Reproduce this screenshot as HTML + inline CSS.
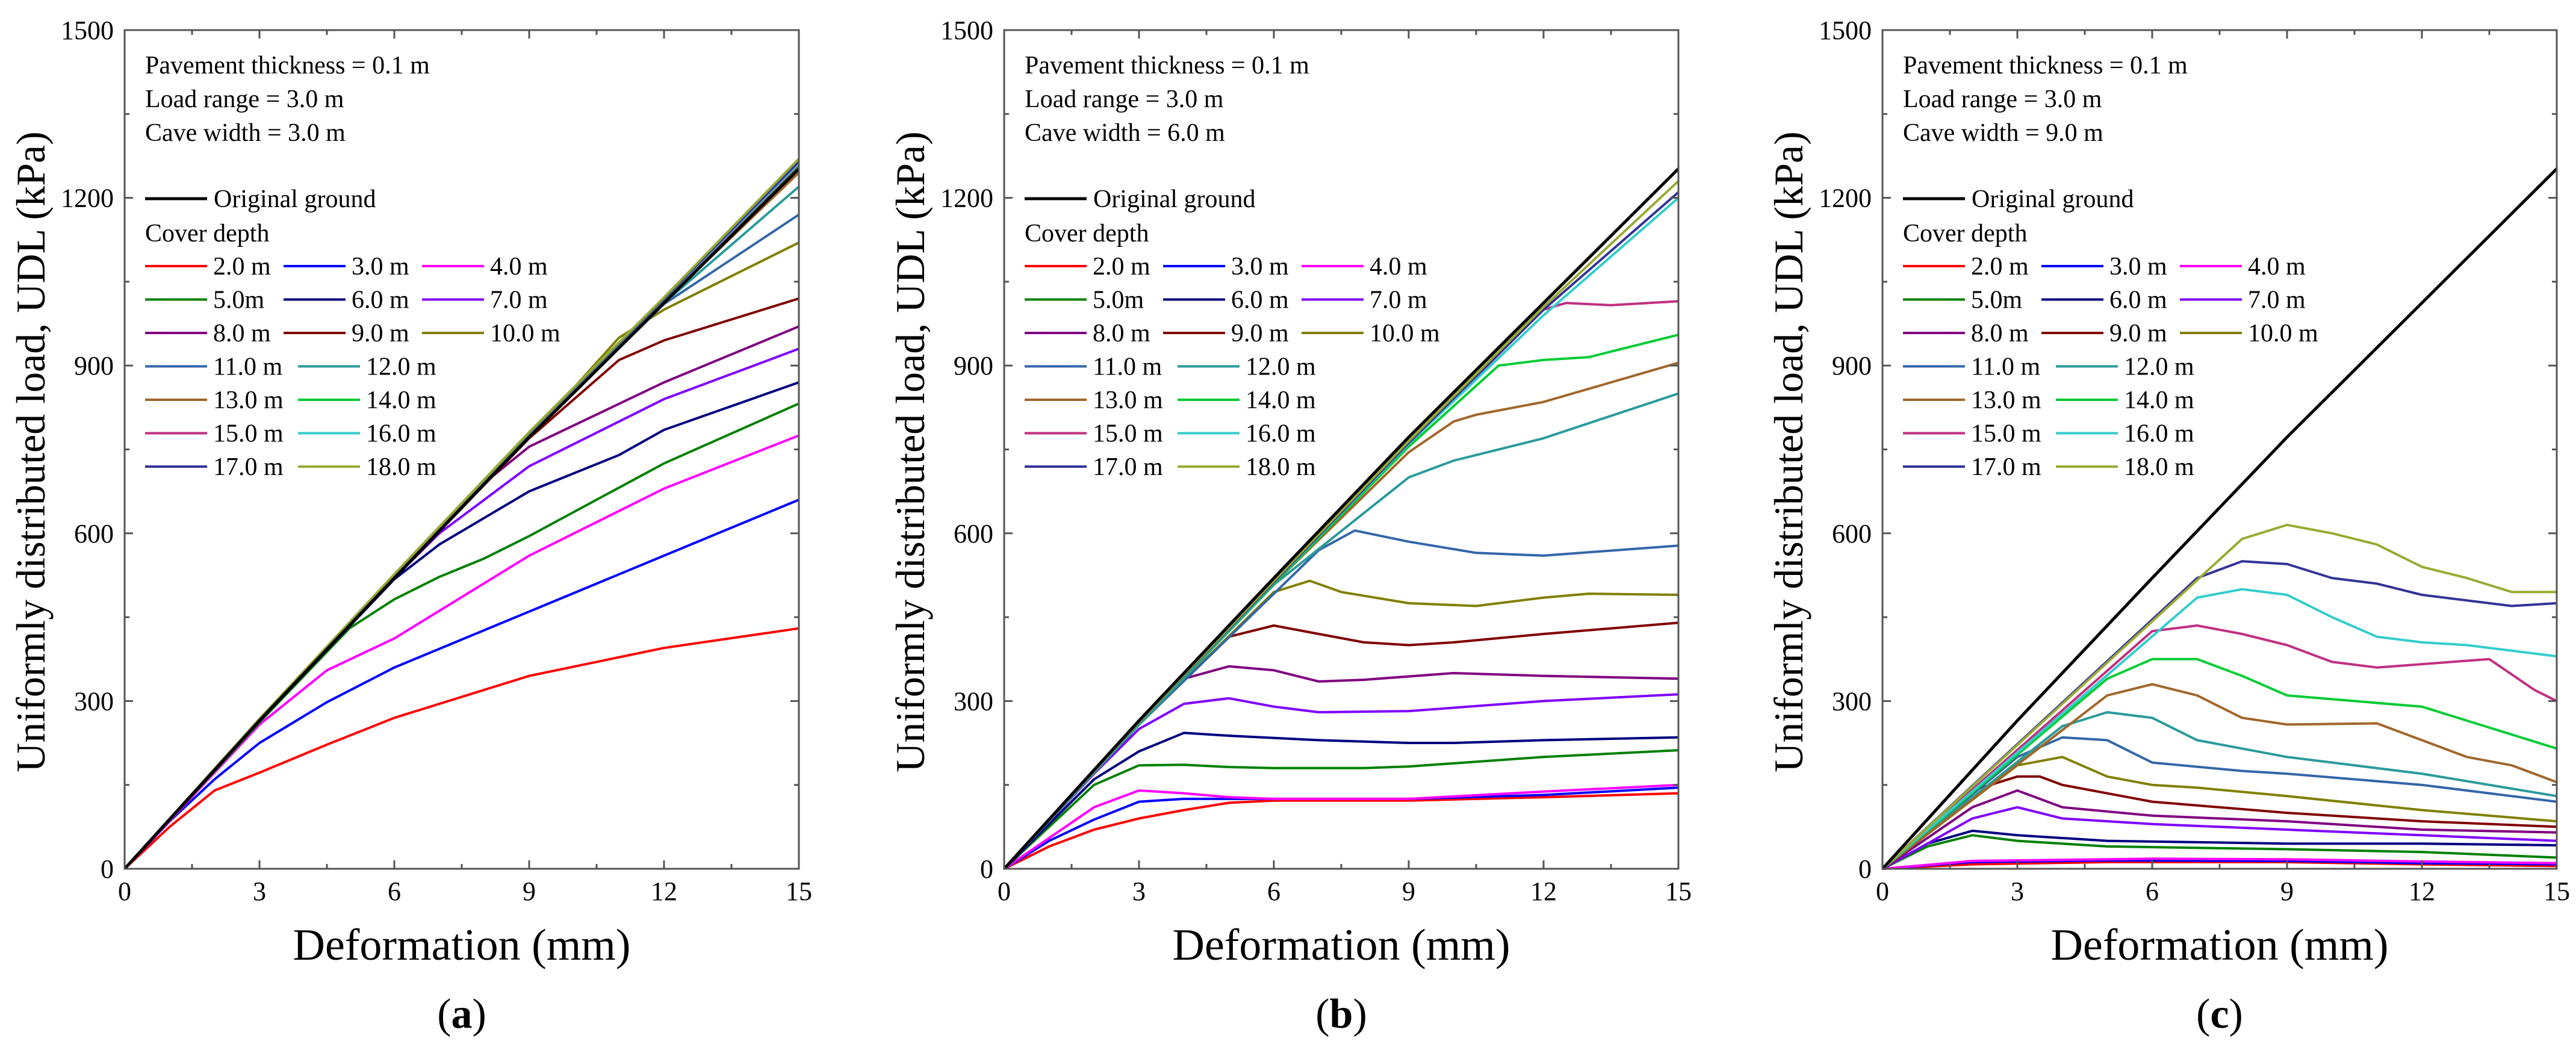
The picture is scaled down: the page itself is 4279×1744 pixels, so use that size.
<!DOCTYPE html>
<html><head><meta charset="utf-8"><style>
html,body{margin:0;padding:0;background:#fff;}
svg{display:block;font-family:"Liberation Serif","Times New Roman",serif;}
</style></head><body>
<svg id="fig" width="4279" height="1744" viewBox="0 0 4279 1744" xmlns="http://www.w3.org/2000/svg"></svg>
<script>
const depthLabels = ["2.0 m","3.0 m","4.0 m","5.0m","6.0 m","7.0 m","8.0 m","9.0 m","10.0 m","11.0 m","12.0 m","13.0 m","14.0 m","15.0 m","16.0 m","17.0 m","18.0 m"];
const depthColors = ["#ff0000","#0000ff","#ff00ff","#008000","#000080","#8000ff","#800080","#800000","#808000","#3366a8","#2a9a9a","#a0662a","#00cc33","#c03080","#33cccc","#333399","#99aa33"];
const xTicks = [0,3,6,9,12,15];
const yTicks = [0,300,600,900,1200,1500];
const caveWidths = ["3.0 m","6.0 m","9.0 m"];
const panelLetters = ["a","b","c"];
const originalGround = [[0,0],[3,265],[6,520],[9,772],[12,1012],[15,1252]];

const seriesA = [
 [[0,0],[1,75],[2,140],[3,172],[4.5,222],[6,270],[9,345],[12,395],[15,430]],
 [[0,0],[1,85],[2,160],[3,225],[4.5,298],[6,360],[9,460],[12,560],[15,660]],
 [[0,0],[3,258],[4.5,355],[6,412],[9,560],[12,680],[15,775]],
 [[0,0],[3,262],[5,430],[6,482],[7,522],[8,555],[9,595],[12,725],[15,832]],
 [[0,0],[3,264],[6,518],[7,580],[9,675],[11,740],[12,785],[15,870]],
 [[0,0],[3,265],[6,520],[7,600],[9,720],[12,840],[15,930]],
 [[0,0],[3,265],[6,520],[8,690],[9,755],[12,870],[15,970]],
 [[0,0],[3,265],[6,520],[9,770],[11,910],[12,945],[15,1020]],
 [[0,0],[3,265],[6,520],[9,772],[11,950],[12,1000],[15,1120]],
 [[0,0],[3,265],[6,520],[9,772],[12,1010],[15,1170]],
 [[0,0],[3,265],[6,520],[9,772],[12,1012],[15,1220]],
 [[0,0],[3,266],[6,522],[9,774],[12,1014],[15,1245]],
 [[0,0],[3,266],[6,523],[9,776],[12,1016],[15,1255]],
 [[0,0],[3,267],[6,524],[9,778],[12,1018],[15,1260]],
 [[0,0],[3,267],[6,525],[9,779],[12,1019],[15,1262]],
 [[0,0],[3,268],[6,526],[9,780],[12,1020],[15,1265]],
 [[0,0],[3,268],[6,527],[9,781],[12,1022],[15,1270]]
];
const seriesB = [
 [[0,0],[1,40],[2,70],[3,90],[4,105],[5,118],[6,122],[9,122],[12,128],[15,135]],
 [[0,0],[1,50],[2,88],[3,120],[4,125],[6,125],[9,125],[12,132],[15,145]],
 [[0,0],[2,110],[3,140],[4,135],[5,128],[6,125],[9,125],[12,138],[15,150]],
 [[0,0],[2,150],[3,185],[4,186],[5,182],[6,180],[8,180],[9,183],[12,200],[15,212]],
 [[0,0],[2,160],[3,210],[4,243],[5,238],[7,230],[9,225],[10,225],[12,230],[15,235]],
 [[0,0],[2,170],[3,250],[4,295],[5,305],[6,290],[7,280],[9,282],[12,300],[15,312]],
 [[0,0],[3,258],[4,340],[5,362],[6,355],[7,335],[8,338],[10,350],[12,345],[15,340]],
 [[0,0],[3,258],[5,415],[6,435],[7,420],[8,405],[9,400],[10,405],[12,420],[15,440]],
 [[0,0],[3,258],[6,495],[6.8,515],[7.5,495],[9,475],[10.5,470],[12,485],[13,492],[15,490]],
 [[0,0],[3,258],[7,570],[7.8,605],[9,585],[10.5,565],[12,560],[15,578]],
 [[0,0],[3,258],[6,508],[9,700],[10,730],[12,770],[15,850]],
 [[0,0],[3,260],[6,510],[9,745],[10,800],[10.5,812],[12,835],[15,905]],
 [[0,0],[3,260],[6,510],[9,755],[11,900],[12,910],[13,915],[15,955]],
 [[0,0],[3,261],[6,512],[9,760],[12,1000],[12.5,1012],[13.5,1008],[15,1015]],
 [[0,0],[3,261],[6,512],[9,760],[12,990],[15,1200]],
 [[0,0],[3,262],[6,513],[9,762],[12,1000],[15,1210]],
 [[0,0],[3,263],[6,515],[9,765],[12,1005],[15,1230]]
];
const seriesC = [
 [[0,0],[2,8],[5,12],[9,12],[12,8],[15,5]],
 [[0,0],[2,12],[5,15],[9,14],[12,10],[15,8]],
 [[0,0],[2,14],[6,18],[9,17],[12,13],[15,10]],
 [[0,0],[1,40],[2,60],[3,50],[5,40],[9,35],[12,30],[15,20]],
 [[0,0],[1,45],[2,68],[3,60],[5,50],[9,45],[12,45],[15,42]],
 [[0,0],[2,90],[3,110],[4,90],[6,80],[9,70],[12,60],[15,50]],
 [[0,0],[2,110],[3,140],[4,110],[6,95],[9,85],[12,70],[15,65]],
 [[0,0],[2,140],[3,165],[3.5,165],[4,150],[6,120],[9,100],[12,85],[15,75]],
 [[0,0],[3,185],[4,200],[5,165],[6,150],[7,145],[9,130],[12,105],[15,85]],
 [[0,0],[3,200],[4,235],[5,230],[6,190],[8,175],[9,170],[12,150],[15,120]],
 [[0,0],[4,255],[5,280],[6,270],[7,230],[9,200],[12,170],[15,130]],
 [[0,0],[5,310],[6,330],[7,310],[8,270],[9,258],[11,260],[12,230],[13,200],[14,185],[15,155]],
 [[0,0],[5,340],[6,375],[7,375],[8,345],[9,310],[12,290],[15,215]],
 [[0,0],[6,425],[7,435],[8,420],[9,400],[10,370],[11,360],[13,372],[13.5,375],[14.5,320],[15,300]],
 [[0,0],[7,485],[8,500],[9,490],[10,450],[11,415],[12,405],[13,400],[15,380]],
 [[0,0],[7,520],[8,550],[9,545],[10,520],[11,510],[12,490],[14,470],[15,475]],
 [[0,0],[8,590],[9,615],[10,600],[11,580],[12,540],[13,520],[14,495],[15,495]]
];
const allSeries = [seriesA, seriesB, seriesC];

const NS = "http://www.w3.org/2000/svg";
const svg = document.getElementById("fig");
const panelLefts = [207, 1668, 3127];
const PW = 1120, Y0 = 1443, YTOP = 50;
function mk(tag, attrs, parent){const e=document.createElementNS(NS,tag);for(const k in attrs)e.setAttribute(k,attrs[k]);(parent||svg).appendChild(e);return e;}

panelLefts.forEach((L, p) => {
  const g = mk("g", {});
  
  
  const xs = d => L + d / 15 * PW;
  const ys = v => Y0 - v / 1500 * (Y0 - YTOP);
  const R = L + PW;
  // series
  const drawLine = (pts, color, w, name) => {
    const pl = mk("polyline", {points: pts.map(q => xs(q[0]).toFixed(1) + "," + ys(q[1]).toFixed(1)).join(" "), fill:"none", stroke:color, "stroke-width":w, "stroke-linejoin":"round"}, g);
    
    
  };
  allSeries[p].forEach((s, i) => drawLine(s, depthColors[i], 4, 'series-' + depthLabels[i].replace(/[ .]/g,'')));
  drawLine(originalGround, "#000", 5, 'series-original-ground');
  // frame
  const fr = mk("rect", {x:L, y:YTOP, width:PW, height:Y0-YTOP, fill:"none", stroke:"#555", "stroke-width":3}, g);
  
  
  // ticks
  for (let d = 0; d <= 15; d += 1.5) {
    const maj = Math.abs(d % 3) < 1e-6, len = maj ? 14 : 8;
    mk("line", {x1:xs(d), y1:Y0, x2:xs(d), y2:Y0-len, stroke:"#555","stroke-width":3}, g);
    mk("line", {x1:xs(d), y1:YTOP, x2:xs(d), y2:YTOP+len, stroke:"#555","stroke-width":3}, g);
  }
  for (let v = 0; v <= 1500; v += 150) {
    const maj = v % 300 === 0, len = maj ? 14 : 8;
    mk("line", {x1:L, y1:ys(v), x2:L+len, y2:ys(v), stroke:"#555","stroke-width":3}, g);
    mk("line", {x1:R, y1:ys(v), x2:R-len, y2:ys(v), stroke:"#555","stroke-width":3}, g);
  }
  xTicks.forEach(t => {
    const tx = mk("text", {x:xs(t), y:Y0+52, "font-size":44, "text-anchor":"middle", fill:"#000"}, g);
    tx.textContent = t;
    
    
  });
  yTicks.forEach(t => {
    const tx = mk("text", {x:L-18, y:ys(t)+15, "font-size":44, "text-anchor":"end", fill:"#000"}, g);
    tx.textContent = t;
    
    
  });
  // axis titles
  const xt = mk("text", {x:L+PW/2, y:1594, "font-size":74, "text-anchor":"middle", fill:"#000"}, g);
  xt.textContent = "Deformation (mm)";
  
  
  const yt = mk("text", {x:0, y:0, "font-size":68, "text-anchor":"middle", fill:"#000", transform:`translate(${L-133},${(Y0+YTOP)/2+4}) rotate(-90)`}, g);
  yt.textContent = "Uniformly distributed load, UDL (kPa)";
  
  
  const pl = mk("text", {x:L+PW/2, y:1707, "font-size":70, "text-anchor":"middle", fill:"#000"}, g);
  pl.innerHTML = '(<tspan font-weight="bold">' + panelLetters[p] + '</tspan>)';
  
  
  // annotations
  const notes = ["Pavement thickness = 0.1 m", "Load range = 3.0 m", "Cave width = " + caveWidths[p]];
  notes.forEach((n, k) => {
    const t = mk("text", {x:L+34, y:122+k*56, "font-size":42, fill:"#000"}, g);
    t.textContent = n;
    
    
  });
  // legend
  const lg = mk("g", {}, g);
  
  
  mk("line", {x1:L+34, y1:330, x2:L+137, y2:330, stroke:"#000", "stroke-width":5}, lg);
  const og = mk("text", {x:L+148, y:344, "font-size":42, fill:"#000"}, lg);
  og.textContent = "Original ground";
  
  
  const cd = mk("text", {x:L+34, y:401, "font-size":42, fill:"#000"}, lg);
  cd.textContent = "Cover depth";
  
  
  depthLabels.forEach((lab, i) => {
    let row, col;
    if (i < 9) { row = Math.floor(i/3); col = i%3; }
    else { row = 3 + Math.floor((i-9)/2); col = (i-9)%2; }
    let x0 = L + 34 + col*230 + (i >= 9 && col === 1 ? 24 : 0);
    const yy = 442 + row*55.5;
    mk("line", {x1:x0, y1:yy, x2:x0+103, y2:yy, stroke:depthColors[i], "stroke-width":4}, lg);
    const t = mk("text", {x:x0+113, y:yy+14, "font-size":42, fill:"#000"}, lg);
    t.textContent = lab;
    
    
  });
});
</script>
</body></html>
